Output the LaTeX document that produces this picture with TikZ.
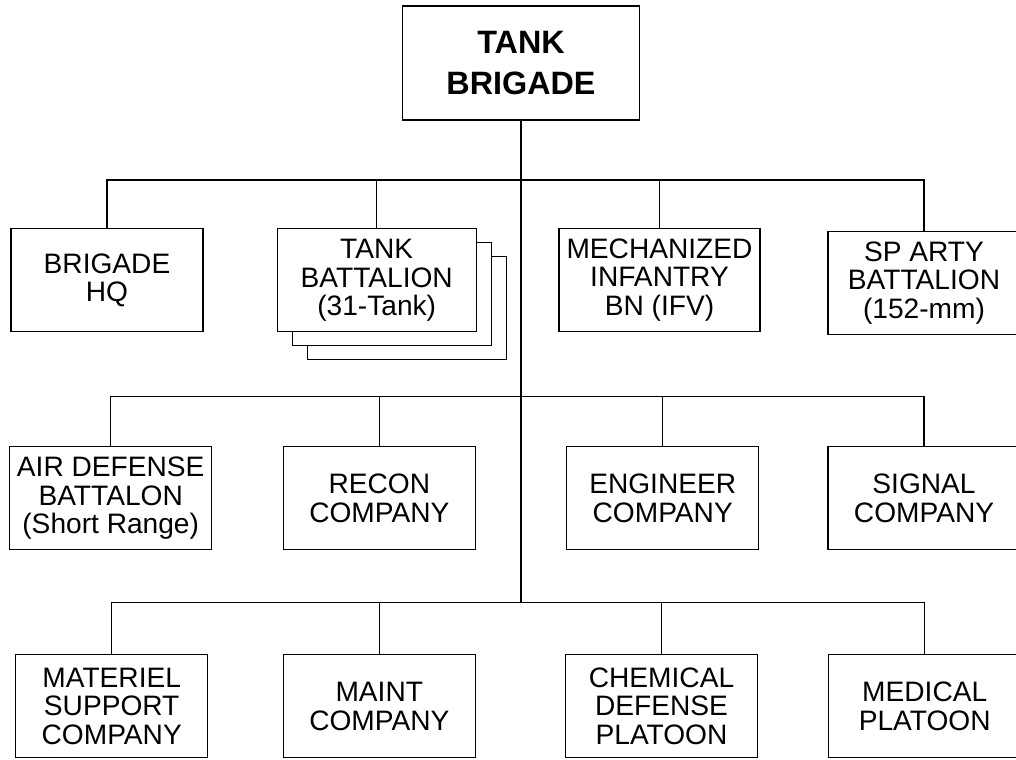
\documentclass[tikz,border=0pt]{standalone}
\usepackage{fontspec}
\setmainfont{Liberation Sans}
\usetikzlibrary{positioning}

\begin{document}
\begin{tikzpicture}[
    x=0.025cm, y=-0.025cm,
    unit/.style={rectangle,draw,line width=0.9pt,fill=white,inner sep=0pt,
                 minimum width=192*0.025cm,minimum height=103*0.025cm,align=center,
                 font=\fontsize{20}{20.3}\selectfont},
    chief/.style={unit,minimum width=237*0.025cm,minimum height=114*0.025cm,
                  font=\fontsize{23}{29.5}\selectfont\bfseries},
    link/.style={line width=0.9pt}
]
    \useasboundingbox (0,0) rectangle (1016,760);
    % top of the chart
    \node[chief] (bde) at (521,63) {TANK\\BRIGADE};
    % first row
    \node[unit] (hq) at (107,280.3) {BRIGADE\\HQ};
    \node[unit,minimum width=199*0.025cm] (tank3) at (406.7,308.3) {};
    \node[unit,minimum width=199*0.025cm] (tank2) at (391.7,294.3) {};
    \node[unit,minimum width=199*0.025cm] (tank) at (376.7,280.3) {TANK\\BATTALION\\(31-Tank)};
    \node[unit,minimum width=201*0.025cm] (mech) at (659.5,279.7) {MECHANIZED\\INFANTRY\\BN (IFV)};
    \node[unit] (arty) at (924,283) {SP ARTY\\BATTALION\\(152-mm)};
    % second row
    \node[unit,minimum width=202*0.025cm] (ad) at (110.7,498.3) {AIR DEFENSE\\BATTALON\\(Short Range)};
    \node[unit] (recon) at (379.3,498.3) {RECON\\COMPANY};
    \node[unit] (eng) at (662.7,498.3) {ENGINEER\\COMPANY};
    \node[unit] (sig) at (924,498.3) {SIGNAL\\COMPANY};
    % third row
    \node[unit] (mat) at (111.7,706.3) {MATERIEL\\SUPPORT\\COMPANY};
    \node[unit] (maint) at (379.3,706.3) {MAINT\\COMPANY};
    \node[unit] (chem) at (661.5,706.3) {CHEMICAL\\DEFENSE\\PLATOON};
    \node[unit] (med) at (924.7,706.3) {MEDICAL\\PLATOON};

    \coordinate (bus1) at (521,180);
    \coordinate (bus2) at (521,396.7);
    \coordinate (bus3) at (521,602.7);

    \draw[link] (bde.south) -- (bus3);
    \draw[link] (hq.north) |- (bus1) -| (arty.north);
    \draw[link] (tank.north) -- (tank.north |- bus1);
    \draw[link] (mech.north) -- (mech.north |- bus1);
    \draw[link] (ad.north) |- (bus2) -| (sig.north);
    \draw[link] (recon.north) -- (recon.north |- bus2);
    \draw[link] (eng.north) -- (eng.north |- bus2);
    \draw[link] (mat.north) |- (bus3) -| (med.north);
    \draw[link] (maint.north) -- (maint.north |- bus3);
    \draw[link] (chem.north) -- (chem.north |- bus3);
\end{tikzpicture}
\end{document}
